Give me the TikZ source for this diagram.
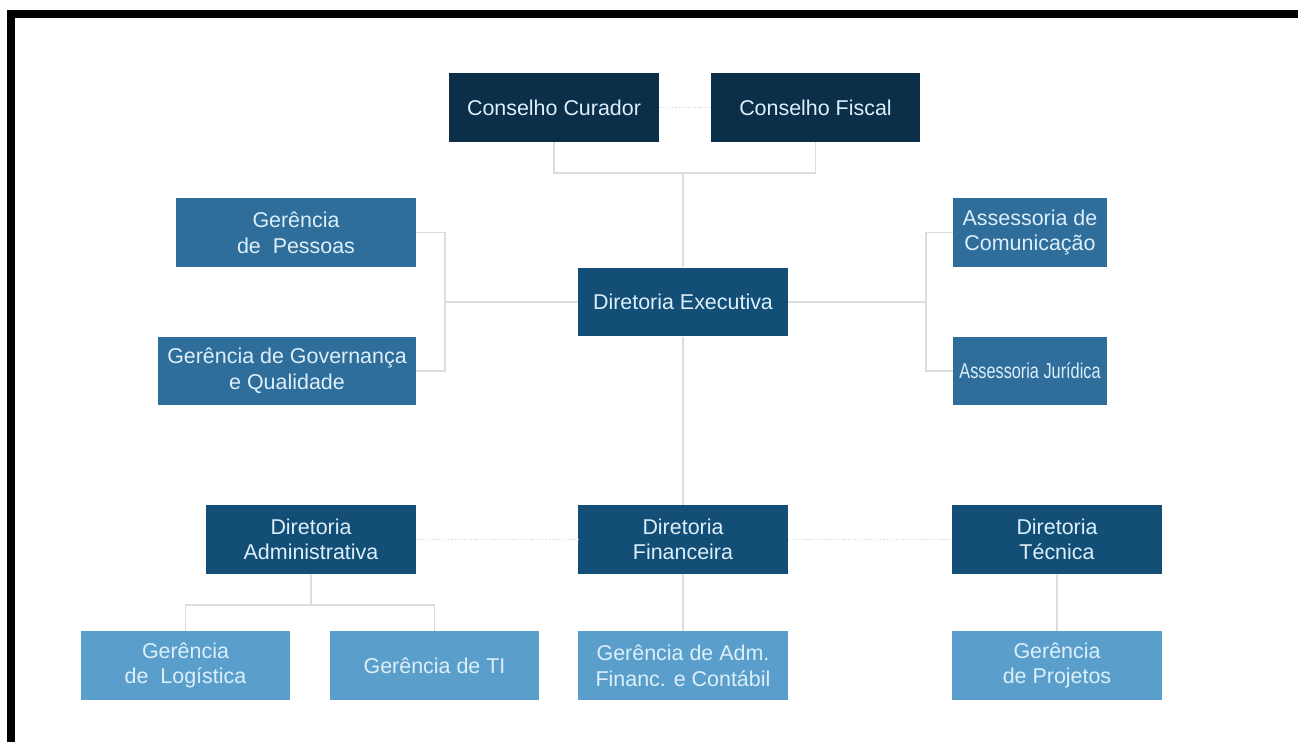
\documentclass[tikz,border=0pt]{standalone}
\usepackage{fontspec}
\setmainfont{Liberation Sans}
\newfontfamily\narrowsans[FakeStretch=0.76]{Liberation Sans}
\definecolor{conselhoblue}{HTML}{0B2E49}
\definecolor{diretorblue}{HTML}{134E76}
\definecolor{gerenteblue}{HTML}{2F6D9A}
\definecolor{lightblue}{HTML}{5A9FCB}
\definecolor{boxtext}{HTML}{DCEFFA}
\definecolor{linkgray}{HTML}{DCDCDC}
\begin{document}
\begin{tikzpicture}[
    x=0.02cm, y=-0.02cm,
    unit/.style={inner sep=0pt, minimum width=4.2cm, minimum height=1.37cm,
                 align=center, text=boxtext,
                 font=\fontsize{12.2}{14.6}\selectfont},
    conselho/.style={unit, fill=conselhoblue},
    diretoria/.style={unit, fill=diretorblue},
    gerencia/.style={unit, fill=gerenteblue},
    setor/.style={unit, fill=lightblue},
    link/.style={draw=linkgray, line width=0.8pt},
    dlink/.style={draw=linkgray, line width=0.8pt, densely dotted}
  ]
    \useasboundingbox (0,0) rectangle (1298,742);
    \draw[line width=0.16cm] (11,742) -- (11,14) -- (1298,14);

    \node[conselho]  (curador)    at (554,107.5)  {Conselho Curador};
    \node[conselho]  (fiscal)     at (815.5,107.5){Conselho Fiscal};
    \node[diretoria] (executiva)  at (683,302)    {Diretoria Executiva};
    \node[gerencia, minimum width=4.8cm]  (pessoas)    at (296,232.5) {Gerência\\de\ \ Pessoas};
    \node[gerencia, minimum width=5.16cm] (governanca) at (287,371)   {Gerência de Governança\\e Qualidade};
    \node[gerencia, minimum width=3.08cm] (comunicacao) at (1030,232.5) {Assessoria de\\Comunicação};
    \node[gerencia, minimum width=3.08cm, font=\narrowsans\fontsize{12.2}{14.6}\selectfont]
                     (juridica)   at (1030,371)   {Assessoria Jurídica};
    \node[diretoria] (administrativa) at (311,539.5)  {Diretoria\\Administrativa};
    \node[diretoria] (financeira) at (683,539.5)  {Diretoria\\Financeira};
    \node[diretoria] (tecnica)    at (1057,539.5) {Diretoria\\Técnica};
    \node[setor]     (logistica)  at (185.5,665.5){Gerência\\de\ \ Logística};
    \node[setor]     (ti)         at (434.5,665.5){Gerência de TI};
    \node[setor]     (contabil)   at (683,665.5)  {Gerência de Adm.\\Financ. e Contábil};
    \node[setor]     (projetos)   at (1057,665.5) {Gerência\\de Projetos};

    \coordinate (conselhos) at (683,173);
    \coordinate (apoioesq)  at (445,302);
    \coordinate (apoiodir)  at (926,302);
    \coordinate (adminsub)  at (311,605);

    \draw[dlink] (curador) -- (fiscal);
    \draw[link]  (curador.south) |- (conselhos) -| (fiscal.south);
    \draw[link]  (conselhos) -- (executiva.north);
    \draw[link]  (pessoas.east) -| (apoioesq) |- (governanca.east);
    \draw[link]  (apoioesq) -- (executiva.west);
    \draw[link]  (comunicacao.west) -| (apoiodir) |- (juridica.west);
    \draw[link]  (executiva.east) -- (apoiodir);
    \draw[link]  (executiva.south) -- (financeira.north);
    \draw[dlink] (administrativa) -- (financeira);
    \draw[dlink] (financeira) -- (tecnica);
    \draw[link]  (administrativa.south) -- (adminsub);
    \draw[link]  (logistica.north) |- (adminsub) -| (ti.north);
    \draw[link]  (financeira.south) -- (contabil.north);
    \draw[link]  (tecnica.south) -- (projetos.north);
  \end{tikzpicture}
\end{document}
